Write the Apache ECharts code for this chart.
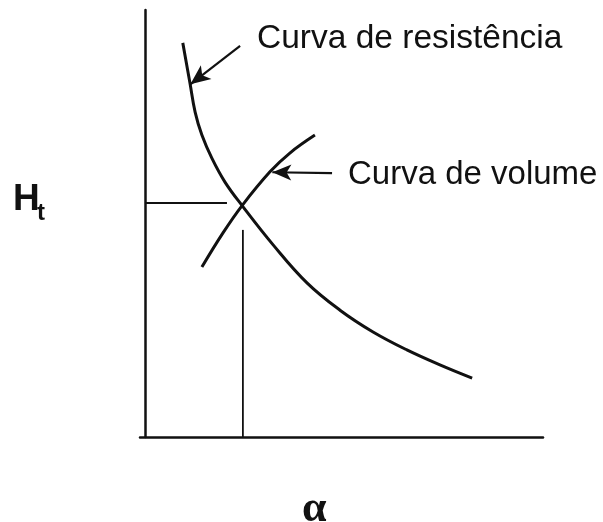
<!DOCTYPE html>
<html>
<head>
<meta charset="utf-8">
<style>
  html, body { margin: 0; padding: 0; background: #fff; }
  #chart { width: 603px; height: 522px; }
</style>
<script src="https://cdn.jsdelivr.net/npm/echarts@6/dist/echarts.min.js"></script>
</head>
<body>
<div id="chart"></div>
<script>
// Resistance curve: H_t falls as alpha grows
const resistanceCurve = [
  [9.5, 92.3], [11.3, 82.9], [12.6, 76.1], [14.3, 70.7], [16.8, 65.3],
  [20.1, 59.7], [24.4, 54.2], [32.2, 45.0], [40.7, 36.1], [49.0, 29.7],
  [57.3, 24.6], [65.8, 20.4], [74.1, 16.9], [82.2, 13.8]
];
// Volume curve: H_t rises with alpha
const volumeCurve = [
  [14.3, 39.8], [19.6, 47.8], [24.4, 54.2], [31.4, 62.1], [36.4, 66.5], [42.7, 70.7]
];
// Operating point guides (horizontal to the H_t axis, vertical to the alpha axis)
const guideH = [[0, 54.8], [20.6, 54.8]];
const guideV = [[24.6, 0], [24.6, 48.5]];
// Pointer arrows from the labels to each curve: [tail, tip]
const arrowResistance = [[23.9, 91.6], [11.4, 82.6]];
const arrowVolume = [[47.0, 61.8], [32.0, 62.0]];
// Texts
const labelResistance = 'Curva de resistência';
const labelVolume = 'Curva de volume';

const ink = '#111';
const chart = echarts.init(document.getElementById('chart'), null, { renderer: 'canvas' });

function arrowLine(pair) {
  return [{ coord: pair[0] }, { coord: pair[1] }];
}

chart.setOption({
  backgroundColor: '#fff',
  animation: false,
  grid: { left: 140, right: 60, top: 10, bottom: 85 },
  xAxis: {
    type: 'value', min: -1.25, max: 100,
    axisLine: { show: true, onZero: true, lineStyle: { color: ink, width: 2.5 } },
    axisTick: { show: false }, axisLabel: { show: false }, splitLine: { show: false }
  },
  yAxis: {
    type: 'value', min: 0, max: 100,
    axisLine: { show: true, onZero: true, lineStyle: { color: ink, width: 2.5 } },
    axisTick: { show: false }, axisLabel: { show: false }, splitLine: { show: false }
  },
  series: [
    {
      type: 'line', data: resistanceCurve, smooth: 0.4, showSymbol: false,
      lineStyle: { color: ink, width: 3 },
      markLine: {
        silent: true, symbol: ['none', 'arrow'], symbolSize: [13, 20],
        lineStyle: { color: ink, width: 2.2, type: 'solid' }, label: { show: false },
        data: [arrowLine(arrowResistance)]
      }
    },
    {
      type: 'line', data: volumeCurve, smooth: 0.4, showSymbol: false,
      lineStyle: { color: ink, width: 3 },
      markLine: {
        silent: true, symbol: ['none', 'arrow'], symbolSize: [12, 19],
        lineStyle: { color: ink, width: 2.2, type: 'solid' }, label: { show: false },
        data: [arrowLine(arrowVolume)]
      }
    },
    { type: 'line', data: guideH, showSymbol: false, lineStyle: { color: ink, width: 1.8 } },
    { type: 'line', data: guideV, showSymbol: false, lineStyle: { color: ink, width: 1.8 } }
  ],
  graphic: [
    {
      type: 'text', left: 257, top: 22,
      style: { text: labelResistance, fill: ink, font: '33.5px "Liberation Sans", Arial, sans-serif' }
    },
    {
      type: 'text', left: 348, top: 158,
      style: { text: labelVolume, fill: ink, font: '33px "Liberation Sans", Arial, sans-serif' }
    },
    {
      type: 'text', left: 13, top: 181,
      style: { text: 'H', fill: ink, font: 'bold 37px "Liberation Sans Narrow", "Liberation Sans", Arial, sans-serif' }
    },
    {
      type: 'text', left: 37, top: 201,
      style: { text: 't', fill: ink, font: 'bold 24px "Liberation Sans Narrow", "Liberation Sans", Arial, sans-serif' }
    },
    {
      type: 'text', left: 302, top: 488,
      style: { text: 'α', fill: ink, font: 'bold 44px "Liberation Serif", "DejaVu Serif", serif' }
    }
  ]
});
</script>
</body>
</html>
